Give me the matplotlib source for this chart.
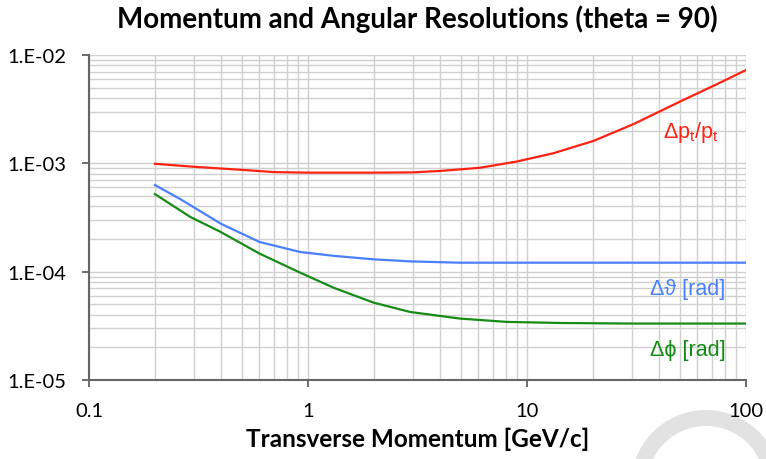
import matplotlib.pyplot as plt
from matplotlib.patches import Arc

# transverse momentum values [GeV/c] and resolutions for each series
pt_res_x = [0.2, 0.3, 0.5, 0.7, 1, 2, 3, 4, 6.1, 9, 13.2, 20.1, 30.6, 50, 73.5, 100]
pt_res_y = [9.9e-4, 9.3e-4, 8.7e-4, 8.3e-4, 8.2e-4, 8.2e-4, 8.25e-4, 8.5e-4,
            9.1e-4, 1.04e-3, 1.24e-3, 1.61e-3, 2.30e-3, 3.72e-3, 5.37e-3, 7.27e-3]

theta_res_x = [0.2, 0.26, 0.4, 0.6, 0.92, 1.31, 1.99, 2.92, 4.94, 10, 20, 50, 100]
theta_res_y = [6.3e-4, 4.7e-4, 2.77e-4, 1.88e-4, 1.52e-4, 1.40e-4, 1.30e-4,
               1.245e-4, 1.21e-4, 1.21e-4, 1.21e-4, 1.21e-4, 1.21e-4]

phi_res_x = [0.2, 0.29, 0.4, 0.6, 0.92, 1.31, 1.99, 2.92, 4.94, 8.07, 14.2, 30, 100]
phi_res_y = [5.2e-4, 3.2e-4, 2.32e-4, 1.47e-4, 9.8e-5, 7.1e-5, 5.18e-5,
             4.25e-5, 3.69e-5, 3.44e-5, 3.36e-5, 3.32e-5, 3.32e-5]

x_ticks = [0.1, 1, 10, 100]
x_tick_labels = ['0.1', '1', '10', '100']
y_ticks = [1e-5, 1e-4, 1e-3, 1e-2]
y_tick_labels = ['1.E-05', '1.E-04', '1.E-03', '1.E-02']

red = '#ff2211'
blue = '#4a80ff'
green = '#168c16'

plt.rcParams['font.family'] = ['Lato', 'DejaVu Sans']
plt.rcParams['mathtext.fontset'] = 'custom'
plt.rcParams['mathtext.rm'] = 'Liberation Sans'
plt.rcParams['mathtext.it'] = 'Liberation Sans'

fig = plt.figure(figsize=(7.66, 4.6), dpi=100)
ax = fig.add_axes([0.1162, 0.1717, 0.8578, 0.7066])

ax.plot(pt_res_x, pt_res_y, color=red, lw=1.6)
ax.plot(theta_res_x, theta_res_y, color=blue, lw=1.6)
ax.plot(phi_res_x, phi_res_y, color=green, lw=1.6)

ax.set_xscale('log')
ax.set_yscale('log')
ax.set_xlim(0.1, 100)
ax.set_ylim(1e-5, 1e-2)

ax.set_xticks(x_ticks)
ax.set_xticklabels(x_tick_labels)
ax.set_yticks(y_ticks)
ax.set_yticklabels(y_tick_labels)
ax.tick_params(which='major', length=5, width=1.2, color='#555555',
               labelsize=14.5, direction='out')
ax.tick_params(axis='y', pad=11)
ax.tick_params(axis='x', pad=11)
ax.tick_params(which='minor', length=0)

ax.grid(True, which='both', color='#d0d0d0', lw=1.0)
ax.set_axisbelow(True)
for side in ['top', 'right']:
    ax.spines[side].set_visible(False)
for side in ['left', 'bottom']:
    ax.spines[side].set_color('#666666')
    ax.spines[side].set_linewidth(1.5)

label_font = ['Liberation Sans', 'DejaVu Sans']
ax.text(0.916, 0.765, r'$\Delta\mathrm{p_t/p_t}$', transform=ax.transAxes,
        color=red, fontsize=15.5, ha='center', va='center')
ax.text(0.911, 0.283, 'Δϑ [rad]', transform=ax.transAxes, color=blue,
        fontsize=15.5, family=label_font, ha='center', va='center')
ax.text(0.911, 0.093, 'Δϕ [rad]', transform=ax.transAxes, color=green,
        fontsize=15.5, family=label_font, ha='center', va='center')

ax.set_title('Momentum and Angular Resolutions (theta = 90)',
             fontsize=20, fontweight='bold', pad=20)
ax.set_xlabel('Transverse Momentum [GeV/c]', fontsize=17.5, fontweight='bold',
              labelpad=5)

# light grey swoosh in the lower right corner
fig.add_artist(Arc((706 / 766, 1 - 486 / 460), 2 * 67 / 766, 2 * 67 / 460,
                   transform=fig.transFigure, color='#e2e2e2', lw=11.5,
                   zorder=0))

fig.savefig('out.png', dpi=100)
